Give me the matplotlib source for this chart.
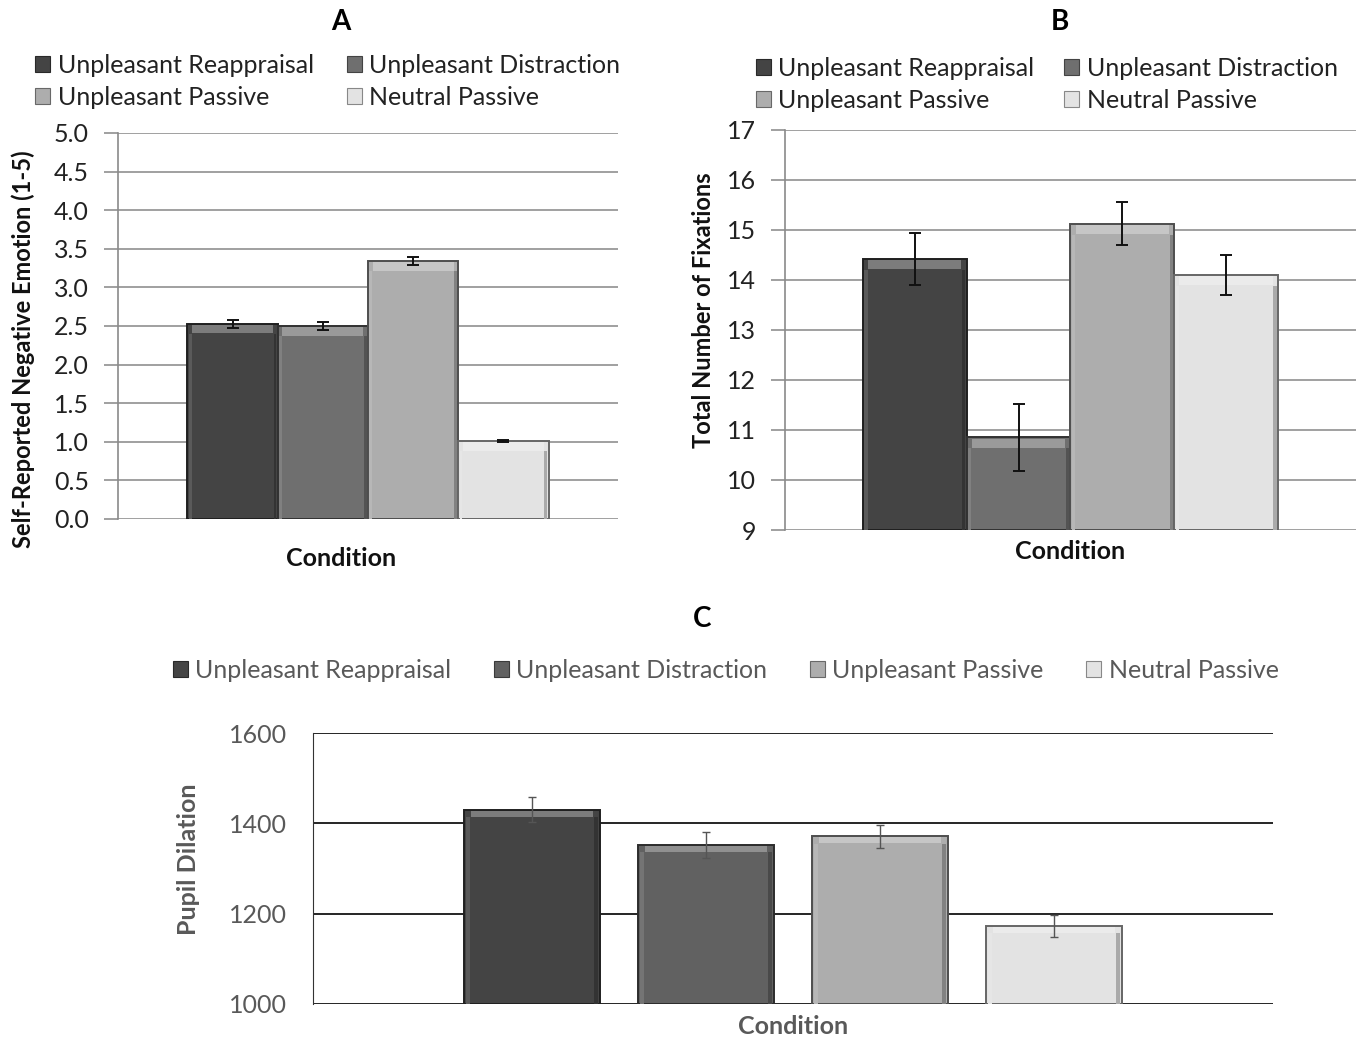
import matplotlib
matplotlib.use("Agg")
import matplotlib.pyplot as plt
import numpy as np

plt.rcParams['font.family'] = ['Lato', 'DejaVu Sans']

conditions = ["Unpleasant Reappraisal", "Unpleasant Distraction", "Unpleasant Passive", "Neutral Passive"]
colors = ["#444444", "#6f6f6f", "#adadad", "#e3e3e3"]
colors_c = ["#444444", "#616161", "#adadad", "#e3e3e3"]

emotion_vals = [2.53, 2.50, 3.34, 1.01]
emotion_err = [0.05, 0.05, 0.05, 0.01]
emotion_ticks = [0.0, 0.5, 1.0, 1.5, 2.0, 2.5, 3.0, 3.5, 4.0, 4.5, 5.0]

fix_vals = [14.42, 10.85, 15.12, 14.10]
fix_err = [0.52, 0.67, 0.43, 0.40]
fix_ticks = [9, 10, 11, 12, 13, 14, 15, 16, 17]

pupil_vals = [1430, 1352, 1371, 1173]
pupil_err = [28, 29, 25, 25]
pupil_ticks = [1000, 1200, 1400, 1600]

fig = plt.figure(figsize=(13.64, 10.38), dpi=100)


def lighten(c, f):
    rgb = np.array(matplotlib.colors.to_rgb(c))
    return tuple(rgb + (1 - rgb) * f)


def darken(c, f):
    rgb = np.array(matplotlib.colors.to_rgb(c))
    return tuple(rgb * (1 - f))


def bevel_bars(ax, x, vals, width, cols, ymin, ymax):
    band = 0.022 * (ymax - ymin)
    for xi, v, c in zip(x, vals, cols):
        ax.bar(xi, v - ymin, bottom=ymin, width=width, color=c, edgecolor=darken(c, 0.55), linewidth=1.4, zorder=3)
        ax.bar(xi, band, bottom=v - band * 1.15, width=width * 0.9, color=lighten(c, 0.3), linewidth=0, zorder=4)
        ax.bar(xi + width * 0.47, v - ymin - band * 1.2, bottom=ymin, width=width * 0.03,
               color=darken(c, 0.25), linewidth=0, zorder=4)
        ax.bar(xi - width * 0.47, v - ymin - band * 1.2, bottom=ymin, width=width * 0.03,
               color=lighten(c, 0.12), linewidth=0, zorder=4)


def legend_handles(cols):
    return [matplotlib.patches.Patch(facecolor=c, edgecolor=darken(c, 0.4), linewidth=0.8) for c in cols]


def rowwise(items):
    # legend fills columns first; reorder so rows read left-to-right
    return [items[0], items[2], items[1], items[3]]


x = np.arange(4)
FS = 18

# Panel A
axA = fig.add_axes([0.0865, 0.5, 0.3666, 0.3719])
bevel_bars(axA, x, emotion_vals, 1.0, colors, 0, 5)
axA.errorbar(x, emotion_vals, yerr=emotion_err, fmt='none', ecolor='#111111', elinewidth=1.4, capsize=4, capthick=1.4, zorder=5)
axA.set_ylim(0, 5)
axA.set_xlim(1.5 - 2.77, 1.5 + 2.77)
axA.set_yticks(emotion_ticks)
axA.set_yticklabels([f"{t:.1f}" for t in emotion_ticks], fontsize=FS, color='#222222')
axA.set_xticks([])
axA.yaxis.grid(True, color='#a0a0a0', linewidth=1.4, zorder=0)
axA.tick_params(axis='y', length=10, color='#a0a0a0', width=1.4, pad=11)
for s in ['top', 'right', 'bottom']:
    axA.spines[s].set_visible(False)
axA.spines['left'].set_color('#8a8a8a')
axA.spines['left'].set_linewidth(1.2)
axA.set_ylabel("Self-Reported Negative Emotion (1-5)", fontsize=17, fontweight='bold', color='#111111')
axA.yaxis.set_label_coords(-0.166, 0.44)
axA.set_xlabel("Condition", fontsize=FS, fontweight='bold', color='#111111')
axA.xaxis.set_label_coords(0.446, -0.072)
axA.set_axisbelow(True)
fig.text(0.25, 0.979, "A", fontsize=20, fontweight='bold', ha='center', va='center')
fig.legend(rowwise(legend_handles(colors)), rowwise(conditions), loc='upper left', bbox_to_anchor=(0.026, 0.948), ncol=2,
           frameon=False, fontsize=FS, handlelength=0.6, handleheight=0.6, handletextpad=0.3,
           columnspacing=1.3, labelspacing=0.36, borderaxespad=0, borderpad=0,
           labelcolor='#222222')

# Panel B
axB = fig.add_axes([0.5755, 0.4894, 0.4186, 0.3854])
bevel_bars(axB, x, fix_vals, 1.0, colors, 9, 17)
axB.errorbar(x, fix_vals, yerr=fix_err, fmt='none', ecolor='#111111', elinewidth=1.4, capsize=4, capthick=1.4, zorder=5)
axB.set_ylim(9, 17)
axB.set_xlim(1.5 - 2.75, 1.5 + 2.75)
axB.set_yticks(fix_ticks)
axB.set_yticklabels([str(t) for t in fix_ticks], fontsize=FS, color='#222222')
axB.set_xticks([])
axB.yaxis.grid(True, color='#a0a0a0', linewidth=1.4, zorder=0)
axB.tick_params(axis='y', length=10, color='#a0a0a0', width=1.4, pad=11)
for s in ['top', 'right', 'bottom']:
    axB.spines[s].set_visible(False)
axB.spines['left'].set_color('#8a8a8a')
axB.spines['left'].set_linewidth(1.2)
axB.set_ylabel("Total Number of Fixations", fontsize=17, fontweight='bold', color='#111111')
axB.yaxis.set_label_coords(-0.123, 0.55)
axB.set_xlabel("Condition", fontsize=FS, fontweight='bold', color='#111111')
axB.xaxis.set_label_coords(0.5, -0.026)
axB.set_axisbelow(True)
fig.text(0.777, 0.979, "B", fontsize=20, fontweight='bold', ha='center', va='center')
fig.legend(rowwise(legend_handles(colors)), rowwise(conditions), loc='upper left', bbox_to_anchor=(0.554, 0.945), ncol=2,
           frameon=False, fontsize=FS, handlelength=0.6, handleheight=0.6, handletextpad=0.3,
           columnspacing=1.2, labelspacing=0.36, borderaxespad=0, borderpad=0,
           labelcolor='#222222')

# Panel C
axC = fig.add_axes([0.2295, 0.0328, 0.7038, 0.2610])
bevel_bars(axC, x, pupil_vals, 0.78, colors_c, 1000, 1600)
axC.errorbar(x, pupil_vals, yerr=pupil_err, fmt='none', ecolor='#555555', elinewidth=1.0, capsize=3, capthick=1.0, zorder=5)
axC.set_ylim(1000, 1600)
axC.set_xlim(1.5 - 2.76, 1.5 + 2.76)
axC.set_yticks(pupil_ticks)
axC.set_yticklabels([str(t) for t in pupil_ticks], fontsize=FS, color='#595959')
axC.set_xticks([])
axC.yaxis.grid(True, color='#000000', linewidth=1.2, zorder=0)
axC.tick_params(axis='y', length=0, pad=19)
for s in ['top', 'right', 'bottom']:
    axC.spines[s].set_visible(False)
axC.spines['left'].set_color('#333333')
axC.set_ylabel("Pupil Dilation", fontsize=18, fontweight='bold', color='#595959')
axC.yaxis.set_label_coords(-0.118, 0.535)
axC.set_xlabel("Condition", fontsize=FS, fontweight='bold', color='#595959')
axC.xaxis.set_label_coords(0.5, -0.042)
axC.set_axisbelow(True)
fig.text(0.515, 0.404, "C", fontsize=20, fontweight='bold', ha='center', va='center')
fig.legend(legend_handles(colors_c), conditions, loc='center', bbox_to_anchor=(0.532, 0.3545), ncol=4,
           frameon=False, fontsize=FS, handlelength=0.6, handleheight=0.6, handletextpad=0.3,
           columnspacing=1.7, borderaxespad=0, borderpad=0, labelcolor='#595959')

fig.savefig("out.png", dpi=100)
